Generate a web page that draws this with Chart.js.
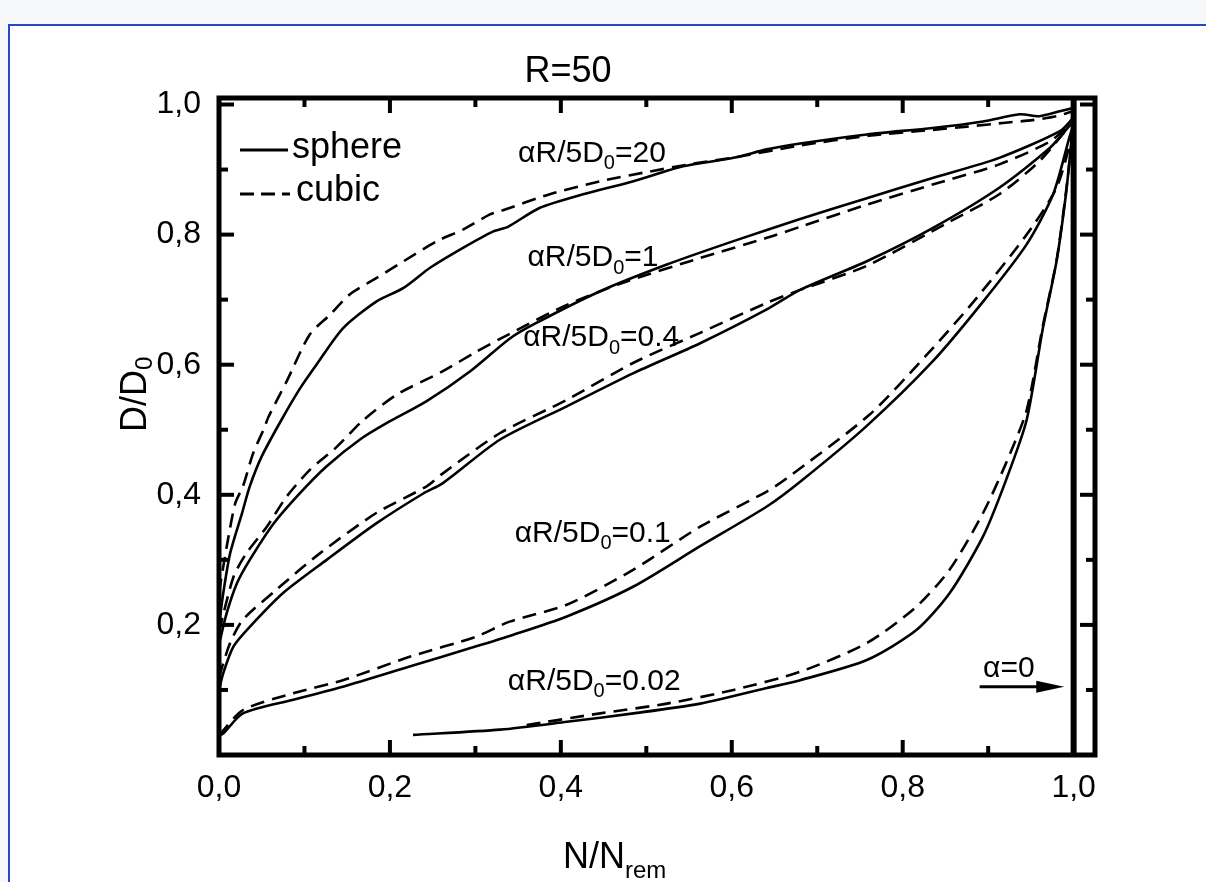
<!DOCTYPE html>
<html><head><meta charset="utf-8">
<script src="https://cdn.jsdelivr.net/npm/chart.js@4.4.1/dist/chart.umd.min.js"></script>
<style>
html,body{margin:0;padding:0;width:1206px;height:882px;overflow:hidden;background:#f7f8fb;}
#frame{position:absolute;left:8px;top:24px;width:1220px;height:880px;background:#fff;border-left:2px solid #2446c8;border-top:2px solid #2446c8;}
#wrap{position:absolute;left:0;top:0;width:1206px;height:882px;}
</style></head><body>
<div id="frame"></div>
<div id="wrap"><canvas id="c"></canvas></div>
<script>
// ---- data ----
const xTickValues = [0,0.1,0.2,0.3,0.4,0.5,0.6,0.7,0.8,0.9,1.0];
const yTickValues = [0,0.1,0.2,0.3,0.4,0.5,0.6,0.7,0.8,0.9,1.0];

const s20x = [0,0.005,0.013,0.027,0.036,0.05,0.073,0.095,0.114,0.145,0.184,0.216,0.247,0.286,0.321,0.338,0.375,0.426,0.485,0.543,0.602,0.641,0.68,0.758,0.835,0.894,0.937,0.96,0.985,1.0];
const s20y = [0.20,0.249,0.31,0.372,0.413,0.459,0.515,0.564,0.60,0.656,0.697,0.718,0.749,0.78,0.805,0.812,0.841,0.862,0.882,0.905,0.918,0.931,0.94,0.954,0.964,0.974,0.985,0.982,0.99,0.995];
const c20x = [0,0.009,0.019,0.028,0.04,0.052,0.058,0.079,0.106,0.13,0.153,0.184,0.216,0.255,0.286,0.317,0.329,0.387,0.446,0.504,0.55,0.6,0.68,0.76,0.835,0.875,0.92,0.952,0.98,1.0];
const c20y = [0.25,0.32,0.387,0.413,0.464,0.50,0.52,0.574,0.646,0.677,0.708,0.733,0.759,0.79,0.808,0.831,0.836,0.862,0.882,0.897,0.908,0.918,0.937,0.952,0.961,0.966,0.972,0.976,0.982,0.99];

const s1x = [0,0.009,0.021,0.036,0.064,0.095,0.126,0.165,0.196,0.243,0.294,0.34,0.368,0.446,0.524,0.602,0.68,0.758,0.835,0.913,0.984,1.0];
const s1y = [0.17,0.218,0.264,0.30,0.356,0.403,0.444,0.485,0.51,0.544,0.59,0.64,0.662,0.713,0.754,0.79,0.824,0.856,0.887,0.918,0.959,0.98];
const c1x = [0,0.017,0.032,0.056,0.079,0.106,0.138,0.169,0.208,0.262,0.301,0.338,0.407,0.477,0.563,0.641,0.68,0.758,0.835,0.913,0.972,1.0];
const c1y = [0.19,0.274,0.31,0.351,0.397,0.438,0.474,0.515,0.554,0.59,0.62,0.646,0.692,0.728,0.764,0.795,0.812,0.846,0.877,0.908,0.943,0.975];

const s04x = [0,0.005,0.017,0.036,0.075,0.126,0.184,0.239,0.262,0.329,0.407,0.485,0.563,0.641,0.68,0.758,0.835,0.913,0.972,0.995,1.0];
const s04y = [0.10,0.126,0.167,0.197,0.249,0.30,0.356,0.402,0.418,0.485,0.536,0.587,0.633,0.685,0.715,0.759,0.81,0.872,0.933,0.967,0.975];
const c04x = [0,0.013,0.028,0.067,0.118,0.184,0.243,0.262,0.329,0.407,0.485,0.563,0.641,0.68,0.758,0.855,0.913,0.96,1.0];
const c04y = [0.12,0.172,0.208,0.254,0.31,0.372,0.413,0.433,0.495,0.546,0.603,0.649,0.695,0.715,0.752,0.82,0.862,0.913,0.975];

const s01x = [0,0.005,0.028,0.087,0.145,0.223,0.301,0.34,0.407,0.485,0.563,0.641,0.68,0.758,0.835,0.894,0.945,0.976,0.995,1.0];
const s01y = [0.03,0.033,0.064,0.085,0.105,0.136,0.167,0.183,0.213,0.259,0.321,0.382,0.42,0.506,0.605,0.697,0.785,0.862,0.949,0.97];
const c01x = [0,0.028,0.087,0.145,0.223,0.301,0.34,0.407,0.485,0.563,0.641,0.664,0.761,0.828,0.883,0.945,0.98,1.0];
const c01y = [0.03,0.069,0.095,0.115,0.151,0.182,0.205,0.231,0.285,0.351,0.405,0.425,0.523,0.615,0.697,0.8,0.872,0.96];

const s002x = [0.227,0.329,0.407,0.485,0.563,0.641,0.68,0.758,0.816,0.855,0.894,0.921,0.945,0.964,0.98,0.991,0.997,1.0];
const s002y = [0.031,0.039,0.051,0.064,0.079,0.103,0.115,0.146,0.192,0.249,0.336,0.423,0.515,0.656,0.759,0.862,0.938,0.97];
const c002x = [0.36,0.446,0.524,0.602,0.68,0.758,0.816,0.855,0.894,0.921,0.945,0.964,0.98,0.991,1.0];
const c002y = [0.046,0.064,0.079,0.1,0.128,0.172,0.228,0.285,0.372,0.449,0.53,0.66,0.76,0.865,0.97];

const alpha0x = [1.0,1.0];
const alpha0y = [0,1.01];

const curveLabels = [
  {pre:'\u03B1R/5D', post:'=20',   x:0.350, y:0.912},
  {pre:'\u03B1R/5D', post:'=1',    x:0.361, y:0.751},
  {pre:'\u03B1R/5D', post:'=0.4',  x:0.356, y:0.628},
  {pre:'\u03B1R/5D', post:'=0.1',  x:0.346, y:0.328},
  {pre:'\u03B1R/5D', post:'=0.02', x:0.338, y:0.100}
];

// ---- build datasets ----
function pts(xs, ys){ return xs.map((x,i)=>({x:x, y:ys[i]})); }
function solid(xs, ys, name){ return {label:name, data:pts(xs,ys), showLine:true, borderColor:'#000', borderWidth:2.6, pointRadius:0, tension:0.25, fill:false}; }
function dashed(xs, ys, name){ return {label:name, data:pts(xs,ys), showLine:true, borderColor:'#000', borderWidth:2.6, borderDash:[14,8], pointRadius:0, tension:0.25, fill:false}; }

const datasets = [
  solid(s20x,s20y,'sphere 20'), dashed(c20x,c20y,'cubic 20'),
  solid(s1x,s1y,'sphere 1'), dashed(c1x,c1y,'cubic 1'),
  solid(s04x,s04y,'sphere 0.4'), dashed(c04x,c04y,'cubic 0.4'),
  solid(s01x,s01y,'sphere 0.1'), dashed(c01x,c01y,'cubic 0.1'),
  solid(s002x,s002y,'sphere 0.02'), dashed(c002x,c002y,'cubic 0.02'),
  {label:'alpha=0', data:pts(alpha0x,alpha0y), showLine:true, borderColor:'#000', borderWidth:6, pointRadius:0, fill:false}
];

const FONT = '"Liberation Sans", Arial, Helvetica, sans-serif';

function drawSubText(ctx, pre, sub, post, x, y, size){
  ctx.font = size + 'px ' + FONT;
  ctx.textAlign = 'left'; ctx.textBaseline = 'alphabetic';
  ctx.fillText(pre, x, y);
  let cx = x + ctx.measureText(pre).width;
  const ss = Math.round(size*0.66);
  ctx.font = ss + 'px ' + FONT;
  ctx.fillText(sub, cx, y + size*0.24);
  cx += ctx.measureText(sub).width;
  ctx.font = size + 'px ' + FONT;
  ctx.fillText(post, cx, y);
}

const decor = {
  id:'decor',
  afterDatasetsDraw(chart){
    const ctx = chart.ctx, a = chart.chartArea, xs = chart.scales.x, ys = chart.scales.y;
    ctx.save();
    ctx.strokeStyle = '#000'; ctx.fillStyle = '#000'; ctx.lineCap = 'butt';
    function seg(x1,y1,x2,y2){ ctx.beginPath(); ctx.moveTo(x1,y1); ctx.lineTo(x2,y2); ctx.stroke(); }
    ctx.lineWidth = 4;
    xTickValues.forEach((v,i)=>{
      const p = xs.getPixelForValue(v); const L = (i%2===0)?15:9;
      seg(p, a.bottom, p, a.bottom - L); seg(p, a.top, p, a.top + L);
    });
    yTickValues.forEach((v,i)=>{
      const p = ys.getPixelForValue(v); const L = (i%2===0)?15:9;
      seg(a.left, p, a.left + L, p); seg(a.right, p, a.right - L, p);
    });
    ctx.lineWidth = 5;
    ctx.strokeRect(a.left, a.top, a.right - a.left, a.bottom - a.top);

    // curve labels
    curveLabels.forEach(l=>{
      drawSubText(ctx, l.pre, '0', l.post, xs.getPixelForValue(l.x), ys.getPixelForValue(l.y), 30);
    });
    // alpha = 0 arrow
    ctx.font = '30px ' + FONT; ctx.textAlign='left'; ctx.textBaseline='alphabetic';
    ctx.fillText('\u03B1=0', xs.getPixelForValue(0.894), ys.getPixelForValue(0.12));
    const ax1 = xs.getPixelForValue(0.89), ax2 = xs.getPixelForValue(0.989), ay = ys.getPixelForValue(0.105);
    ctx.lineWidth = 3; seg(ax1, ay, ax2 - 20, ay);
    ctx.beginPath(); ctx.moveTo(ax2, ay); ctx.lineTo(ax2 - 28, ay - 6); ctx.lineTo(ax2 - 28, ay + 6); ctx.closePath(); ctx.fill();

    // legend
    ctx.lineWidth = 2.8;
    seg(240, 150, 288, 150);
    ctx.setLineDash([14,7]); seg(240, 194, 290, 194); ctx.setLineDash([]);
    ctx.font = '36px ' + FONT; ctx.textAlign='left'; ctx.textBaseline='middle';
    ctx.fillText('sphere', 292, 148);
    ctx.fillText('cubic', 296, 191);
    ctx.restore();
  },
  afterDraw(chart){
    const ctx = chart.ctx;
    ctx.save(); ctx.fillStyle = '#000';
    ctx.font = '36px ' + FONT; ctx.textAlign = 'center'; ctx.textBaseline = 'alphabetic';
    ctx.fillText('R=50', 568, 82);
    // x axis title N/N_rem
    ctx.textAlign = 'left';
    ctx.font = '36px ' + FONT;
    const t1 = 'N/N'; ctx.fillText(t1, 563, 868);
    const w1 = ctx.measureText(t1).width;
    ctx.font = '24px ' + FONT; ctx.fillText('rem', 563 + w1, 878);
    // y axis title D/D0 (rotated)
    ctx.translate(146, 432); ctx.rotate(-Math.PI/2);
    ctx.font = '36px ' + FONT; ctx.fillText('D/D', 0, 0);
    const w2 = ctx.measureText('D/D').width;
    ctx.font = '24px ' + FONT; ctx.fillText('0', w2, 6);
    ctx.restore();
  }
};

function tickLabel(v){
  const r = Math.round(v*10);
  if (r % 2 !== 0) return '';
  return (r/10).toFixed(1).replace('.', ',');
}

new Chart(document.getElementById('c'), {
  type:'scatter',
  data:{datasets:datasets},
  options:{
    responsive:true, maintainAspectRatio:false, animation:false,
    layout:{padding:{left:134, right:111, top:98, bottom:75}},
    plugins:{legend:{display:false}, tooltip:{enabled:false}, title:{display:false}},
    scales:{
      x:{type:'linear', min:0, max:1.025,
         afterBuildTicks:(s)=>{ s.ticks = xTickValues.map(v=>({value:v})); },
         afterFit:(s)=>{ s.height = 52; },
         grid:{display:false, drawTicks:false}, border:{display:false},
         ticks:{autoSkip:false, maxRotation:0, padding:14, color:'#000', font:{size:32, family:FONT}, callback:(v)=>tickLabel(v)}},
      y:{type:'linear', min:0, max:1.01,
         afterBuildTicks:(s)=>{ s.ticks = yTickValues.map(v=>({value:v})); },
         afterFit:(s)=>{ s.width = 85; },
         grid:{display:false, drawTicks:false}, border:{display:false},
         ticks:{autoSkip:false, padding:18, color:'#000', font:{size:32, family:FONT}, callback:(v)=> v===0 ? '' : tickLabel(v)}}
    }
  },
  plugins:[decor]
});
</script>
</body></html>
